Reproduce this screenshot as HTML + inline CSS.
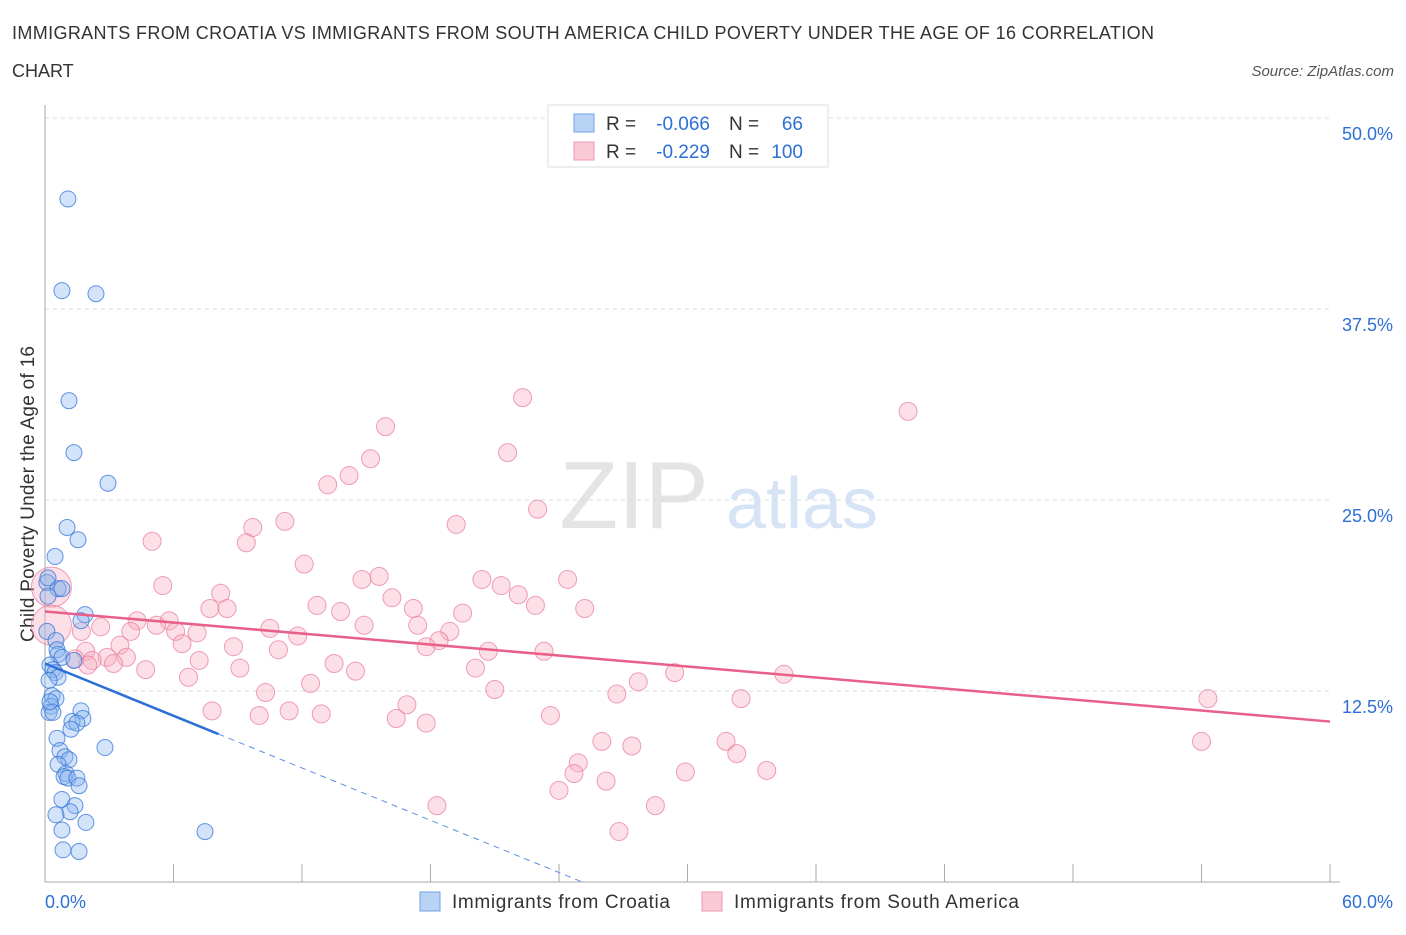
<!DOCTYPE html>
<html><head><meta charset="utf-8"><style>
body{margin:0;background:#fff;font-family:"Liberation Sans",sans-serif;}
svg text{font-family:"Liberation Sans",sans-serif;}
</style></head><body>
<svg width="1406" height="930" viewBox="0 0 1406 930" xmlns="http://www.w3.org/2000/svg">
<text x="12" y="39" font-size="18" fill="#333" textLength="1142" lengthAdjust="spacing">IMMIGRANTS FROM CROATIA VS IMMIGRANTS FROM SOUTH AMERICA CHILD POVERTY UNDER THE AGE OF 16 CORRELATION</text>
<text x="12" y="77" font-size="18" fill="#333">CHART</text>
<text x="1394" y="76" font-size="15" fill="#555" font-style="italic" text-anchor="end">Source: ZipAtlas.com</text>
<text x="634" y="528" font-size="96" fill="#e4e4e4" font-family="Liberation Serif" text-anchor="middle">ZIP</text>
<text x="802" y="528" font-size="72" fill="#d6e4f5" text-anchor="middle">atlas</text>
<g id="grid"></g>
<g id="axes"></g>
<text transform="translate(34,494) rotate(-90)" font-size="19" fill="#333" text-anchor="middle" textLength="296">Child Poverty Under the Age of 16</text>
<g id="pts"></g>
<g id="lines"></g>
<g>
<rect x="548" y="105" width="280" height="62" fill="#fff" stroke="#ddd"/>
<rect x="574" y="114" width="20" height="18" fill="#b9d3f5" stroke="#6fa0e6"/>
<text x="606" y="130" font-size="19" fill="#333">R =</text>
<text x="710" y="130" font-size="19" fill="#2c6fd6" text-anchor="end">-0.066</text>
<text x="729" y="130" font-size="19" fill="#333">N =</text>
<text x="803" y="130" font-size="19" fill="#2c6fd6" text-anchor="end">66</text>
<rect x="574" y="142" width="20" height="18" fill="#f9c9d6" stroke="#ef9ab2"/>
<text x="606" y="158" font-size="19" fill="#333">R =</text>
<text x="710" y="158" font-size="19" fill="#2c6fd6" text-anchor="end">-0.229</text>
<text x="729" y="158" font-size="19" fill="#333">N =</text>
<text x="803" y="158" font-size="19" fill="#2c6fd6" text-anchor="end">100</text>
</g>
<g>
<rect x="420" y="892" width="20" height="19" fill="#b9d3f5" stroke="#6fa0e6"/>
<text x="452" y="908" font-size="19" fill="#333" textLength="218">Immigrants from Croatia</text>
<rect x="702" y="892" width="20" height="19" fill="#f9c9d6" stroke="#ef9ab2"/>
<text x="734" y="908" font-size="19" fill="#333" textLength="285">Immigrants from South America</text>
</g>
</svg>
<script>
const yTicks=[12.5,25.0,37.5,50.0];
const xTickLabels=["0.0%","60.0%"];
const blueX=[1.07,0.79,2.38,1.12,1.35,2.94,1.03,1.54,0.47,0.09,0.61,0.79,0.14,1.87,1.68,0.09,0.51,0.56,0.61,0.79,1.35,0.23,0.37,0.47,0.61,0.19,0.33,0.51,0.28,0.19,0.37,1.68,1.77,1.26,1.49,1.21,0.56,2.80,0.70,0.93,1.12,0.61,0.98,0.89,1.07,1.49,1.59,0.79,1.40,1.17,0.51,1.91,0.79,7.47,0.84,1.59,0.14,0.23];
const blueY=[44.7,38.7,38.5,31.5,28.1,26.1,23.2,22.4,21.3,19.6,19.2,19.2,18.7,17.5,17.1,16.4,15.8,15.2,14.9,14.7,14.5,14.2,13.9,13.7,13.4,13.2,12.2,12.0,11.5,11.1,11.1,11.2,10.7,10.5,10.4,10.0,9.4,8.8,8.6,8.2,8.0,7.7,7.1,6.9,6.8,6.8,6.3,5.4,5.0,4.6,4.4,3.9,3.4,3.3,2.1,2.0,19.9,11.8];
const pinkX=[22.3,40.3,15.9,21.6,15.2,14.2,13.2,23.0,11.2,19.2,9.7,5.0,9.4,12.1,15.6,14.8,20.4,24.4,5.5,21.3,8.2,16.2,22.1,12.7,22.9,7.7,8.5,13.8,17.2,25.2,19.5,4.3,5.8,5.2,14.9,17.4,2.6,1.7,6.1,4.0,7.1,10.5,11.8,18.9,18.4,6.4,8.8,3.5,17.8,20.7,10.9,23.3,1.9,2.9,3.8,1.4,2.2,7.2,3.2,2.0,13.5,4.7,9.1,14.5,20.1,29.4,34.5,6.7,12.4,27.7,21.0,10.3,26.7,32.5,54.3,16.9,11.4,7.8,12.9,10.0,23.6,16.4,17.8,26.0,27.4,31.8,54.0,32.3,24.9,24.7,29.9,33.7,26.2,24.0,18.3,28.5,26.8,0.3,0.3];
const pinkY=[31.7,30.8,29.8,28.1,27.7,26.6,26.0,24.4,23.6,23.4,23.2,22.3,22.2,20.8,20.0,19.8,19.8,19.8,19.4,19.4,18.9,18.6,18.8,18.1,18.1,17.9,17.9,17.7,17.9,17.9,17.6,17.1,17.1,16.8,16.8,16.8,16.7,16.4,16.4,16.4,16.3,16.6,16.1,16.4,15.8,15.6,15.4,15.5,15.4,15.1,15.2,15.1,15.1,14.7,14.7,14.6,14.5,14.5,14.3,14.2,14.3,13.9,14.0,13.8,14.0,13.7,13.6,13.4,13.0,13.1,12.6,12.4,12.3,12.0,12.0,11.6,11.2,11.2,11.0,10.9,10.9,10.7,10.4,9.2,8.9,9.2,9.2,8.4,7.8,7.1,7.2,7.3,6.6,6.0,5.0,5.0,3.3,19.3,16.8];
const pinkR=[];for(let i=0;i<pinkX.length;i++)pinkR.push(i>=pinkX.length-2?20:9);
const blueTrend=[14.3,-0.57];
const pinkTrend=[17.7,-0.12];
const NS="http://www.w3.org/2000/svg";
const X0=45,X1=1330,Y0=882,Y50=118;
const sx=v=>X0+(v/60)*(X1-X0);
const sy=v=>Y0-(v/50)*(Y0-Y50);
function mk(t,a,p){const e=document.createElementNS(NS,t);for(const k in a)e.setAttribute(k,a[k]);p.appendChild(e);return e;}
const grid=document.getElementById('grid'),axes=document.getElementById('axes'),pts=document.getElementById('pts'),lines=document.getElementById('lines');
yTicks.forEach(v=>{
 const l=mk('line',{x1:X0,x2:X1,y1:sy(v),y2:sy(v),stroke:'#ddd','stroke-dasharray':'4,4'},grid);
 
 
 const t=mk('text',{x:1393,y:sy(v)+22,'font-size':18,fill:'#2c6fd6','text-anchor':'end'},grid);
 t.textContent=v.toFixed(1)+'%';
 
 
});
const ax=mk('line',{x1:X0,x2:X0,y1:105,y2:Y0,stroke:'#aaa'},axes);


const bx=mk('line',{x1:X0,x2:X1+10,y1:Y0,y2:Y0,stroke:'#aaa'},axes);


for(let i=0;i<=10;i++){
 const tk=mk('line',{x1:sx(i*6),x2:sx(i*6),y1:Y0-18,y2:Y0,stroke:'#aaa'},axes);
 
 
}
const xl0=mk('text',{x:45,y:908,'font-size':18,fill:'#2c6fd6'},axes);xl0.textContent=xTickLabels[0];


const xl1=mk('text',{x:1393,y:908,'font-size':18,fill:'#2c6fd6','text-anchor':'end'},axes);xl1.textContent=xTickLabels[1];


pinkX.forEach((x,i)=>{
 const c=mk('circle',{cx:sx(x),cy:sy(pinkY[i]),r:pinkR[i],fill:'rgba(246,170,192,0.38)',stroke:'rgba(232,120,155,0.7)','stroke-width':1},pts);
 
 
});
blueX.forEach((x,i)=>{
 const c=mk('circle',{cx:sx(x),cy:sy(blueY[i]),r:8,fill:'rgba(140,182,240,0.38)',stroke:'rgba(50,115,215,0.75)','stroke-width':1},pts);
 
 
});
const pl=mk('line',{x1:sx(0),y1:sy(pinkTrend[0]),x2:sx(60),y2:sy(pinkTrend[0]+pinkTrend[1]*60),stroke:'#e8608a','stroke-width':2.5},lines);


const bl=mk('line',{x1:sx(0),y1:sy(blueTrend[0]),x2:sx(8.1),y2:sy(blueTrend[0]+blueTrend[1]*8.1),stroke:'#2c6fd6','stroke-width':2.5},lines);


const xe=-blueTrend[0]/blueTrend[1];
const bd=mk('line',{x1:sx(8.1),y1:sy(blueTrend[0]+blueTrend[1]*8.1),x2:sx(xe),y2:sy(0),stroke:'#5b8fe0','stroke-width':1,'stroke-dasharray':'6,5'},lines);


</script>
</body></html>
